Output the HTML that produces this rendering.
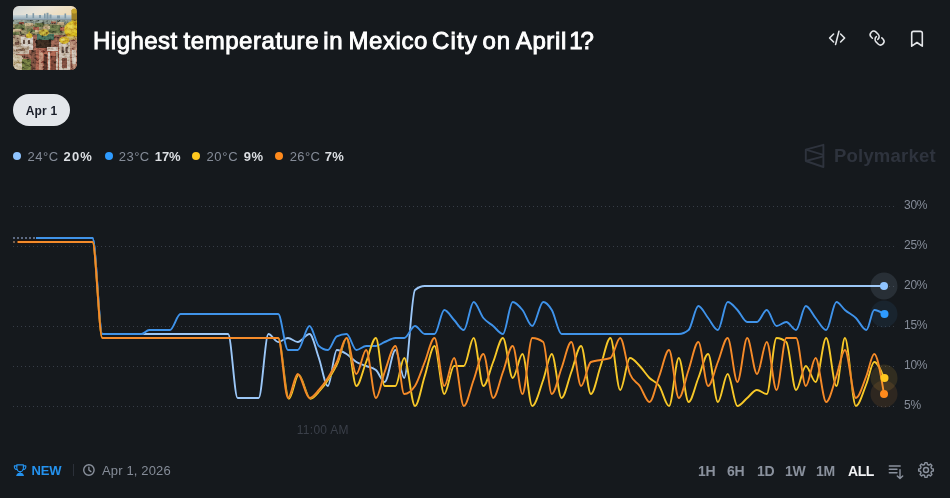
<!DOCTYPE html>
<html lang="en">
<head>
<meta charset="utf-8">
<title>Highest temperature in Mexico City on April 1?</title>
<style>
*{box-sizing:border-box;margin:0;padding:0}
html,body{width:950px;height:498px;overflow:hidden;background:#15191d;}
body{position:relative;font-family:"Liberation Sans",Arial,sans-serif;color:#fff}
.abs{position:absolute}
#thumb{left:13px;top:6px;width:64px;height:64px;border-radius:6px;overflow:hidden}
#title{left:93px;top:27px;font-size:24px;line-height:28px;font-weight:400;-webkit-text-stroke:0.9px #fff;letter-spacing:0.5px;color:#fff;white-space:nowrap}
.w{position:absolute;top:0}
#pill{left:13px;top:94px;width:57px;height:32px;border-radius:16px;background:#e3e6ea;color:#1a1e29;font-size:12px;font-weight:700;line-height:34px;text-align:center;letter-spacing:.2px}
.leg{top:149px;height:16px;line-height:16px;font-size:13px;color:#858c98;white-space:nowrap;letter-spacing:.15px}
.lb{color:#dcdfe3;font-weight:700}
.dot{position:absolute;width:8px;height:8px;border-radius:50%;top:152px}
#wm{left:834px;top:144px;font-size:18.5px;line-height:24px;font-weight:700;color:#2e333d;white-space:nowrap;letter-spacing:.2px}
.yl{left:904px;font-size:12px;letter-spacing:-.25px;line-height:12px;color:#858c98;white-space:nowrap}
#xl{left:296.7px;top:422.5px;font-size:12px;letter-spacing:.3px;line-height:14px;color:#3a3f49;white-space:nowrap}
.foot{top:463px;line-height:16px;font-size:13px;white-space:nowrap}
.rng{top:463px;line-height:16px;font-size:14px;font-weight:700;color:#8a919d;letter-spacing:-0.4px;white-space:nowrap}
svg{position:absolute;left:0;top:0;overflow:visible}
.g{stroke:#373d47;stroke-width:1;stroke-dasharray:1 3;fill:none;shape-rendering:crispEdges}
.ln{fill:none;stroke-width:1.9;stroke-linejoin:round;stroke-linecap:round}
.ic{fill:none;stroke:#e4e6e9;stroke-width:1.6;stroke-linecap:round;stroke-linejoin:round}
.ig{fill:none;stroke:#8a919d;stroke-width:1.4;stroke-linecap:round;stroke-linejoin:round}
</style>
</head>
<body>

<!-- thumbnail -->
<div id="thumb" class="abs">
<svg width="64" height="64" viewBox="0 0 64 64" style="position:static;display:block">
  <defs>
    <linearGradient id="sky" x1="0" y1="0" x2="1" y2="0.3">
      <stop offset="0" stop-color="#cdd6da"/><stop offset="0.55" stop-color="#ebe4d6"/><stop offset="1" stop-color="#f0dcb8"/>
    </linearGradient>
    <linearGradient id="haze" x1="0" y1="0" x2="0" y2="1">
      <stop offset="0" stop-color="#c9d3d6"/><stop offset="0.5" stop-color="#9db2be"/><stop offset="1" stop-color="#869ca6"/>
    </linearGradient>
    <radialGradient id="dome" cx="0.35" cy="0.38" r="0.8">
      <stop offset="0" stop-color="#f5dc50"/><stop offset="0.5" stop-color="#e0b51a"/><stop offset="1" stop-color="#9a700e"/>
    </radialGradient>
    <filter id="bl" x="-5%" y="-5%" width="110%" height="110%"><feGaussianBlur stdDeviation="0.6"/></filter>
    <filter id="nz" x="0" y="0" width="100%" height="100%">
      <feTurbulence type="fractalNoise" baseFrequency="0.28 0.36" numOctaves="3" seed="11"/>
      <feColorMatrix type="matrix" values="2.2 0 0 0 -0.62  2.2 0 0 0 -0.62  2.2 0 0 0 -0.62  0 0 0 0 1"/>
    </filter>
  </defs>
  <rect width="64" height="64" fill="#7d5a48"/>
  <g filter="url(#bl)">
    <rect x="-2" y="-2" width="68" height="13" fill="url(#sky)"/>
    <rect x="-2" y="9" width="68" height="7" fill="url(#haze)"/>
    <g fill="#7f98a6">
      <rect x="13" y="8" width="1.6" height="4"/><rect x="19.5" y="7.2" width="1.6" height="5"/>
      <rect x="26" y="9" width="2" height="3"/><rect x="31" y="7.5" width="1.6" height="5"/>
      <rect x="33.5" y="6.8" width="2" height="6"/><rect x="36.5" y="8.5" width="2" height="4"/>
      <rect x="51.5" y="7.5" width="1.6" height="5"/><rect x="44" y="9.5" width="3" height="3"/>
    </g>
    <rect x="-2" y="14" width="68" height="16" fill="#837f5c"/>
    <rect x="-2" y="14" width="68" height="4" fill="#7b8a80"/>
    <g fill="#5b6b42">
      <rect x="2" y="19" width="10" height="5"/><rect x="22" y="17" width="9" height="4"/>
      <rect x="36" y="19" width="12" height="8"/><rect x="14" y="23" width="8" height="3"/>
      <rect x="0" y="26" width="6" height="3"/>
    </g>
    <g fill="#bfa47c">
      <rect x="12" y="17" width="8" height="3"/><rect x="30" y="20" width="7" height="3"/>
      <rect x="0" y="23" width="9" height="2.5"/><rect x="44" y="16" width="7" height="3"/>
      <rect x="22" y="24" width="5" height="2"/>
    </g>
    <g fill="#9b5845">
      <rect x="20" y="21" width="6" height="3"/><rect x="47" y="21" width="5" height="4"/><rect x="6" y="16" width="5" height="2"/>
      <rect x="38" y="15.5" width="5" height="2"/>
    </g>
    <rect x="-2" y="29" width="68" height="37" fill="#86584a"/>
    <rect x="-2" y="29" width="14" height="18" fill="#a58c76"/>
    <rect x="8" y="31" width="12" height="13" fill="#dcd3c6"/>
    <rect x="10" y="34" width="2" height="4" fill="#5e4c40"/><rect x="15" y="34" width="2" height="4" fill="#5e4c40"/>
    <rect x="2" y="36" width="4" height="3" fill="#6b4d3f"/>
    <rect x="0" y="40" width="16" height="8" fill="#bda890"/>
    <rect x="3" y="43" width="9" height="2" fill="#7d6351"/>
    <path d="M-2,47 L9,50 L15,64 L-2,64 Z" fill="#cfbe98"/>
    <rect x="9" y="53" width="12" height="13" fill="#66703a"/>
    <rect x="24" y="28" width="17" height="6" fill="#3c6553"/>
    <rect x="23" y="34" width="15" height="9" fill="#33261f"/>
    <rect x="22" y="42" width="26" height="24" fill="#9a5846"/>
    <rect x="26" y="44" width="4" height="20" fill="#c08470"/>
    <rect x="34" y="41" width="11" height="4" fill="#dccdbf"/>
    <rect x="31" y="48" width="3" height="16" fill="#4f2e25"/>
    <rect x="38" y="50" width="5" height="14" fill="#6e3c30"/>
    <rect x="18" y="44" width="5" height="20" fill="#70493b"/>
    <rect x="35" y="46" width="2" height="18" fill="#d9c7b8"/>
    <rect x="43" y="46" width="2" height="18" fill="#d9c7b8"/>
    <rect x="46" y="36" width="11" height="30" fill="#d0c0ad"/>
    <rect x="48.5" y="41" width="2.2" height="6" fill="#52423a"/><rect x="52.5" y="41" width="2.2" height="6" fill="#52423a"/>
    <rect x="49" y="52" width="5" height="10" fill="#744a3b"/>
    <rect x="57" y="33" width="9" height="33" fill="#b07d6a"/>
    <rect x="59" y="44" width="4" height="14" fill="#d8c9b8"/>
    <rect x="58.5" y="4" width="5.5" height="12" fill="#a08227"/>
    <circle cx="61.2" cy="5" r="2.6" fill="#c8a52a"/>
    <circle cx="60.3" cy="24" r="9" fill="url(#dome)"/>
    <rect x="51" y="30.5" width="15" height="3.5" fill="#c09c58"/>
    <ellipse cx="51.3" cy="34.3" rx="5" ry="3.6" fill="#dcb228"/>
    <ellipse cx="50" cy="33.4" rx="2" ry="1.2" fill="#f3da62"/>
    <ellipse cx="31" cy="26.6" rx="5.2" ry="3.3" fill="#bfa636"/>
    <ellipse cx="16.3" cy="29.8" rx="3.2" ry="2.5" fill="#d6b52c"/>
    <rect x="15.6" y="25.5" width="1.4" height="3" fill="#b08f26"/>
  </g>
  <rect x="0" y="13" width="64" height="51" fill="#2a1e18" opacity="0.14"/>
  <rect x="0" y="14" width="64" height="50" filter="url(#nz)" opacity="0.42" style="mix-blend-mode:overlay"/>
</svg>

</div>

<div id="title" class="abs"><span class="w" style="left:0.1px;letter-spacing:0.44px">Highest</span> <span class="w" style="left:90.5px;letter-spacing:0.56px">temperature</span> <span class="w" style="left:230.2px;letter-spacing:0.79px">in</span> <span class="w" style="left:255.5px;letter-spacing:0.59px">Mexico</span> <span class="w" style="left:338.9px;letter-spacing:1.2px">City</span> <span class="w" style="left:389.6px;letter-spacing:0.7px">on</span> <span class="w" style="left:422.8px;letter-spacing:0.61px">April</span> <span class="w" style="left:476.3px;letter-spacing:-2.2px">1?</span></div>

<div id="pill" class="abs">Apr 1</div>

<!-- legend -->
<span class="dot" style="left:13px;background:#8fc4ff"></span>
<div class="abs leg" style="left:27.6px;letter-spacing:.5px">24°C</div><div class="abs leg lb" style="left:63.6px;letter-spacing:1.1px">20%</div>
<span class="dot" style="left:105px;background:#2e9bff"></span>
<div class="abs leg" style="left:118.7px;letter-spacing:.5px">23°C</div><div class="abs leg lb" style="left:154.8px;letter-spacing:-.1px">17%</div>
<span class="dot" style="left:192px;background:#ffc81f"></span>
<div class="abs leg" style="left:206.4px;letter-spacing:.75px">20°C</div><div class="abs leg lb" style="left:243.7px;letter-spacing:.5px">9%</div>
<span class="dot" style="left:275px;background:#ff8a1c"></span>
<div class="abs leg" style="left:289.7px;letter-spacing:.4px">26°C</div><div class="abs leg lb" style="left:324.8px;letter-spacing:.2px">7%</div>

<div id="wm" class="abs">Polymarket</div>

<!-- y labels -->
<div class="abs yl" style="top:199px">30%</div>
<div class="abs yl" style="top:239px">25%</div>
<div class="abs yl" style="top:279px">20%</div>
<div class="abs yl" style="top:319px">15%</div>
<div class="abs yl" style="top:359px">10%</div>
<div class="abs yl" style="top:399px">5%</div>
<div id="xl" class="abs">11:00 AM</div>

<!-- chart + icons -->
<svg width="950" height="498" viewBox="0 0 950 498">
  <!-- header icons -->
  <g class="ic">
    <path d="M833.6,34 L829.6,38 L833.6,42"/>
    <path d="M838.9,31.4 L835.6,44.4"/>
    <path d="M840.6,34 L844.6,38 L840.6,42"/>
    <g transform="translate(877.1,38.05) rotate(90) scale(0.69) translate(-12,-12)" stroke-width="2.2">
      <path d="M10 13a5 5 0 0 0 7.54.54l3-3a5 5 0 0 0-7.07-7.07l-1.72 1.71"/>
      <path d="M14 11a5 5 0 0 0-7.54-.54l-3 3a5 5 0 0 0 7.07 7.07l1.71-1.71"/>
    </g>
    <path d="M911.7,46.2 V33.2 a1.8,1.8 0 0 1 1.8,-1.8 h7 a1.8,1.8 0 0 1 1.8,1.8 V46.2 L917,42.5 Z"/>
  </g>
  <!-- watermark logo -->
  <g fill="none" stroke="#2e333d" stroke-width="1.9" stroke-linejoin="round">
    <path d="M805.8,149.7 L823.4,144.8 V167 L805.8,161 Z"/>
    <path d="M805.8,149.7 L823.4,154.9 M805.8,161 L823.4,156.3"/>
  </g>
  <!-- grid -->
  <g>
    <line class="g" x1="13" x2="896" y1="206.5" y2="206.5"/>
    <line class="g" x1="13" x2="896" y1="246.5" y2="246.5"/>
    <line class="g" x1="13" x2="896" y1="286.5" y2="286.5"/>
    <line class="g" x1="13" x2="896" y1="326.5" y2="326.5"/>
    <line class="g" x1="13" x2="896" y1="366.5" y2="366.5"/>
    <line class="g" x1="13" x2="896" y1="406.5" y2="406.5"/>
  </g>
  <g class="ln" stroke-width="4" stroke-opacity="0.65">
    <path stroke="#04142e" d="M14.38,238.00C17.64,238.00 20.89,238.00 24.15,238.00C27.41,238.00 30.67,238.00 33.92,238.00C37.18,238.00 40.44,238.00 43.69,238.00C46.95,238.00 50.21,238.00 53.46,238.00C56.72,238.00 59.98,238.00 63.24,238.00C66.49,238.00 69.75,238.00 73.01,238.00C76.26,238.00 79.52,238.00 82.78,238.00C86.03,238.00 89.29,238.00 92.55,238.00C95.81,238.00 99.06,334.00 102.32,334.00C105.58,334.00 108.83,334.00 112.09,334.00C115.35,334.00 118.60,334.00 121.86,334.00C125.12,334.00 128.38,334.00 131.63,334.00C134.89,334.00 138.15,334.00 141.40,334.00C143.99,334.00 146.58,334.00 149.17,334.00C153.10,334.00 157.02,334.00 160.95,334.00C163.94,334.00 166.93,334.00 169.92,334.00C173.44,334.00 176.96,334.00 180.49,334.00C183.74,334.00 187.00,334.00 190.26,334.00C193.52,334.00 196.77,334.00 200.03,334.00C203.29,334.00 206.54,334.00 209.80,334.00C213.06,334.00 216.31,334.00 219.57,334.00C222.43,334.00 225.29,334.00 228.14,334.00C231.30,334.00 234.46,398.00 237.61,398.00C241.37,398.00 245.13,398.00 248.88,398.00C252.14,398.00 255.40,398.00 258.66,398.00C261.91,398.00 265.17,334.00 268.43,334.00C271.68,334.00 274.94,342.00 278.20,342.00C281.45,342.00 284.71,338.00 287.97,338.00C291.23,338.00 294.48,342.00 297.74,342.00C301.66,342.00 305.59,334.00 309.51,334.00C312.63,334.00 315.76,349.11 318.88,358.00C321.87,366.51 324.86,386.00 327.85,386.00C330.84,386.00 333.83,350.00 336.82,350.00C340.08,350.00 343.34,352.00 346.59,354.00C349.85,356.00 353.11,360.00 356.37,362.00C359.62,364.00 362.88,364.67 366.14,366.00C369.39,367.33 372.65,367.33 375.91,370.00C378.83,372.39 381.76,382.00 384.68,382.00C388.27,382.00 391.86,350.00 395.45,350.00C398.37,350.00 401.30,378.00 404.22,378.00C407.81,378.00 411.40,292.94 414.99,290.00C418.25,287.33 421.51,286.00 424.76,286.00C428.02,286.00 431.28,286.00 434.53,286.00C437.79,286.00 441.05,286.00 444.30,286.00C447.56,286.00 450.82,286.00 454.08,286.00C457.33,286.00 460.59,286.00 463.85,286.00C467.10,286.00 470.36,286.00 473.62,286.00C476.87,286.00 480.13,286.00 483.39,286.00C486.65,286.00 489.90,286.00 493.16,286.00C496.42,286.00 499.67,286.00 502.93,286.00C506.19,286.00 509.44,286.00 512.70,286.00C515.96,286.00 519.22,286.00 522.47,286.00C525.73,286.00 528.99,286.00 532.24,286.00C535.90,286.00 539.56,286.00 543.22,286.00C546.07,286.00 548.93,286.00 551.79,286.00C555.04,286.00 558.30,286.00 561.56,286.00C564.81,286.00 568.07,286.00 571.33,286.00C574.58,286.00 577.84,286.00 581.10,286.00C584.36,286.00 587.61,286.00 590.87,286.00C594.13,286.00 597.38,286.00 600.64,286.00C603.90,286.00 607.15,286.00 610.41,286.00C613.67,286.00 616.93,286.00 620.18,286.00C623.44,286.00 626.70,286.00 629.95,286.00C633.21,286.00 636.47,286.00 639.72,286.00C642.98,286.00 646.24,286.00 649.50,286.00C652.75,286.00 656.01,286.00 659.27,286.00C662.52,286.00 665.78,286.00 669.04,286.00C672.29,286.00 675.55,286.00 678.81,286.00C682.07,286.00 685.32,286.00 688.58,286.00C691.84,286.00 695.09,286.00 698.35,286.00C701.61,286.00 704.87,286.00 708.12,286.00C711.38,286.00 714.64,286.00 717.89,286.00C721.15,286.00 724.41,286.00 727.66,286.00C730.92,286.00 734.18,286.00 737.43,286.00C740.69,286.00 743.95,286.00 747.21,286.00C750.46,286.00 753.72,286.00 756.98,286.00C760.23,286.00 763.49,286.00 766.75,286.00C770.00,286.00 773.26,286.00 776.52,286.00C779.78,286.00 783.03,286.00 786.29,286.00C789.55,286.00 792.80,286.00 796.06,286.00C799.32,286.00 802.58,286.00 805.83,286.00C809.09,286.00 812.35,286.00 815.60,286.00C819.13,286.00 822.65,286.00 826.17,286.00C829.60,286.00 833.02,286.00 836.44,286.00C839.27,286.00 842.09,286.00 844.92,286.00C848.57,286.00 852.23,286.00 855.89,286.00C859.38,286.00 862.87,286.00 866.36,286.00C868.98,286.00 871.61,286.00 874.23,286.00C877.49,286.00 880.74,286.00 884.00,286.00"/>
  </g>
  <path class="ln" stroke="#9cc7f6" d="M14.38,238.00C17.64,238.00 20.89,238.00 24.15,238.00C27.41,238.00 30.67,238.00 33.92,238.00C37.18,238.00 40.44,238.00 43.69,238.00C46.95,238.00 50.21,238.00 53.46,238.00C56.72,238.00 59.98,238.00 63.24,238.00C66.49,238.00 69.75,238.00 73.01,238.00C76.26,238.00 79.52,238.00 82.78,238.00C86.03,238.00 89.29,238.00 92.55,238.00C95.81,238.00 99.06,334.00 102.32,334.00C105.58,334.00 108.83,334.00 112.09,334.00C115.35,334.00 118.60,334.00 121.86,334.00C125.12,334.00 128.38,334.00 131.63,334.00C134.89,334.00 138.15,334.00 141.40,334.00C143.99,334.00 146.58,334.00 149.17,334.00C153.10,334.00 157.02,334.00 160.95,334.00C163.94,334.00 166.93,334.00 169.92,334.00C173.44,334.00 176.96,334.00 180.49,334.00C183.74,334.00 187.00,334.00 190.26,334.00C193.52,334.00 196.77,334.00 200.03,334.00C203.29,334.00 206.54,334.00 209.80,334.00C213.06,334.00 216.31,334.00 219.57,334.00C222.43,334.00 225.29,334.00 228.14,334.00C231.30,334.00 234.46,398.00 237.61,398.00C241.37,398.00 245.13,398.00 248.88,398.00C252.14,398.00 255.40,398.00 258.66,398.00C261.91,398.00 265.17,334.00 268.43,334.00C271.68,334.00 274.94,342.00 278.20,342.00C281.45,342.00 284.71,338.00 287.97,338.00C291.23,338.00 294.48,342.00 297.74,342.00C301.66,342.00 305.59,334.00 309.51,334.00C312.63,334.00 315.76,349.11 318.88,358.00C321.87,366.51 324.86,386.00 327.85,386.00C330.84,386.00 333.83,350.00 336.82,350.00C340.08,350.00 343.34,352.00 346.59,354.00C349.85,356.00 353.11,360.00 356.37,362.00C359.62,364.00 362.88,364.67 366.14,366.00C369.39,367.33 372.65,367.33 375.91,370.00C378.83,372.39 381.76,382.00 384.68,382.00C388.27,382.00 391.86,350.00 395.45,350.00C398.37,350.00 401.30,378.00 404.22,378.00C407.81,378.00 411.40,292.94 414.99,290.00C418.25,287.33 421.51,286.00 424.76,286.00C428.02,286.00 431.28,286.00 434.53,286.00C437.79,286.00 441.05,286.00 444.30,286.00C447.56,286.00 450.82,286.00 454.08,286.00C457.33,286.00 460.59,286.00 463.85,286.00C467.10,286.00 470.36,286.00 473.62,286.00C476.87,286.00 480.13,286.00 483.39,286.00C486.65,286.00 489.90,286.00 493.16,286.00C496.42,286.00 499.67,286.00 502.93,286.00C506.19,286.00 509.44,286.00 512.70,286.00C515.96,286.00 519.22,286.00 522.47,286.00C525.73,286.00 528.99,286.00 532.24,286.00C535.90,286.00 539.56,286.00 543.22,286.00C546.07,286.00 548.93,286.00 551.79,286.00C555.04,286.00 558.30,286.00 561.56,286.00C564.81,286.00 568.07,286.00 571.33,286.00C574.58,286.00 577.84,286.00 581.10,286.00C584.36,286.00 587.61,286.00 590.87,286.00C594.13,286.00 597.38,286.00 600.64,286.00C603.90,286.00 607.15,286.00 610.41,286.00C613.67,286.00 616.93,286.00 620.18,286.00C623.44,286.00 626.70,286.00 629.95,286.00C633.21,286.00 636.47,286.00 639.72,286.00C642.98,286.00 646.24,286.00 649.50,286.00C652.75,286.00 656.01,286.00 659.27,286.00C662.52,286.00 665.78,286.00 669.04,286.00C672.29,286.00 675.55,286.00 678.81,286.00C682.07,286.00 685.32,286.00 688.58,286.00C691.84,286.00 695.09,286.00 698.35,286.00C701.61,286.00 704.87,286.00 708.12,286.00C711.38,286.00 714.64,286.00 717.89,286.00C721.15,286.00 724.41,286.00 727.66,286.00C730.92,286.00 734.18,286.00 737.43,286.00C740.69,286.00 743.95,286.00 747.21,286.00C750.46,286.00 753.72,286.00 756.98,286.00C760.23,286.00 763.49,286.00 766.75,286.00C770.00,286.00 773.26,286.00 776.52,286.00C779.78,286.00 783.03,286.00 786.29,286.00C789.55,286.00 792.80,286.00 796.06,286.00C799.32,286.00 802.58,286.00 805.83,286.00C809.09,286.00 812.35,286.00 815.60,286.00C819.13,286.00 822.65,286.00 826.17,286.00C829.60,286.00 833.02,286.00 836.44,286.00C839.27,286.00 842.09,286.00 844.92,286.00C848.57,286.00 852.23,286.00 855.89,286.00C859.38,286.00 862.87,286.00 866.36,286.00C868.98,286.00 871.61,286.00 874.23,286.00C877.49,286.00 880.74,286.00 884.00,286.00"/>
  <path class="ln" stroke="#021a42" stroke-width="4" stroke-opacity="0.65" d="M14.38,238.00C17.64,238.00 20.89,238.00 24.15,238.00C27.41,238.00 30.67,238.00 33.92,238.00C37.18,238.00 40.44,238.00 43.69,238.00C46.95,238.00 50.21,238.00 53.46,238.00C56.72,238.00 59.98,238.00 63.24,238.00C66.49,238.00 69.75,238.00 73.01,238.00C76.26,238.00 79.52,238.00 82.78,238.00C86.03,238.00 89.29,238.00 92.55,238.00C95.81,238.00 99.06,334.00 102.32,334.00C105.58,334.00 108.83,334.00 112.09,334.00C115.35,334.00 118.60,334.00 121.86,334.00C125.12,334.00 128.38,334.00 131.63,334.00C134.89,334.00 138.15,334.00 141.40,334.00C143.99,334.00 146.58,330.00 149.17,330.00C153.10,330.00 157.02,330.00 160.95,330.00C163.94,330.00 166.93,330.00 169.92,330.00C173.44,330.00 176.96,314.00 180.49,314.00C183.74,314.00 187.00,314.00 190.26,314.00C193.52,314.00 196.77,314.00 200.03,314.00C203.29,314.00 206.54,314.00 209.80,314.00C213.06,314.00 216.31,314.00 219.57,314.00C222.43,314.00 225.29,314.00 228.14,314.00C231.30,314.00 234.46,314.00 237.61,314.00C241.37,314.00 245.13,314.00 248.88,314.00C252.14,314.00 255.40,314.00 258.66,314.00C261.91,314.00 265.17,314.00 268.43,314.00C271.68,314.00 274.94,314.00 278.20,314.00C281.45,314.00 284.71,350.00 287.97,350.00C291.23,350.00 294.48,350.00 297.74,350.00C301.66,350.00 305.59,326.00 309.51,326.00C312.63,326.00 315.76,343.21 318.88,346.00C321.87,348.67 324.86,350.00 327.85,350.00C330.84,350.00 333.83,337.87 336.82,336.40C340.08,334.80 343.34,334.00 346.59,334.00C349.85,334.00 353.11,350.00 356.37,350.00C359.62,350.00 362.88,346.00 366.14,346.00C369.39,346.00 372.65,346.00 375.91,346.00C378.83,346.00 381.76,343.22 384.68,342.00C388.27,340.50 391.86,338.00 395.45,338.00C398.37,338.00 401.30,338.00 404.22,338.00C407.81,338.00 411.40,326.00 414.99,326.00C418.25,326.00 421.51,334.00 424.76,334.00C428.02,334.00 431.28,334.00 434.53,334.00C437.79,334.00 441.05,310.00 444.30,310.00C447.56,310.00 450.82,316.67 454.08,320.00C457.33,323.33 460.59,330.00 463.85,330.00C467.10,330.00 470.36,302.00 473.62,302.00C476.87,302.00 480.13,314.00 483.39,318.00C486.65,322.00 489.90,323.33 493.16,326.00C496.42,328.67 499.67,334.00 502.93,334.00C506.19,334.00 509.44,302.00 512.70,302.00C515.96,302.00 519.22,306.00 522.47,310.00C525.73,314.00 528.99,326.00 532.24,326.00C535.90,326.00 539.56,302.00 543.22,302.00C546.07,302.00 548.93,305.30 551.79,310.00C555.04,315.36 558.30,334.00 561.56,334.00C564.81,334.00 568.07,334.00 571.33,334.00C574.58,334.00 577.84,334.00 581.10,334.00C584.36,334.00 587.61,334.00 590.87,334.00C594.13,334.00 597.38,334.00 600.64,334.00C603.90,334.00 607.15,334.00 610.41,334.00C613.67,334.00 616.93,334.00 620.18,334.00C623.44,334.00 626.70,334.00 629.95,334.00C633.21,334.00 636.47,334.00 639.72,334.00C642.98,334.00 646.24,334.00 649.50,334.00C652.75,334.00 656.01,334.00 659.27,334.00C662.52,334.00 665.78,334.00 669.04,334.00C672.29,334.00 675.55,334.00 678.81,334.00C682.07,334.00 685.32,332.67 688.58,330.00C691.84,327.33 695.09,306.00 698.35,306.00C701.61,306.00 704.87,314.00 708.12,318.00C711.38,322.00 714.64,330.00 717.89,330.00C721.15,330.00 724.41,302.00 727.66,302.00C730.92,302.00 734.18,306.67 737.43,310.00C740.69,313.33 743.95,322.00 747.21,322.00C750.46,322.00 753.72,322.00 756.98,322.00C760.23,322.00 763.49,310.00 766.75,310.00C770.00,310.00 773.26,326.00 776.52,326.00C779.78,326.00 783.03,322.00 786.29,322.00C789.55,322.00 792.80,330.00 796.06,330.00C799.32,330.00 802.58,306.00 805.83,306.00C809.09,306.00 812.35,314.15 815.60,318.00C819.13,322.17 822.65,330.00 826.17,330.00C829.60,330.00 833.02,302.00 836.44,302.00C839.27,302.00 842.09,307.60 844.92,310.00C848.57,313.11 852.23,314.55 855.89,318.00C859.38,321.29 862.87,330.00 866.36,330.00C868.98,330.00 871.61,310.00 874.23,310.00C877.49,310.00 880.74,312.00 884.00,314.00"/>
  <path class="ln" stroke="#4093e8" d="M14.38,238.00C17.64,238.00 20.89,238.00 24.15,238.00C27.41,238.00 30.67,238.00 33.92,238.00C37.18,238.00 40.44,238.00 43.69,238.00C46.95,238.00 50.21,238.00 53.46,238.00C56.72,238.00 59.98,238.00 63.24,238.00C66.49,238.00 69.75,238.00 73.01,238.00C76.26,238.00 79.52,238.00 82.78,238.00C86.03,238.00 89.29,238.00 92.55,238.00C95.81,238.00 99.06,334.00 102.32,334.00C105.58,334.00 108.83,334.00 112.09,334.00C115.35,334.00 118.60,334.00 121.86,334.00C125.12,334.00 128.38,334.00 131.63,334.00C134.89,334.00 138.15,334.00 141.40,334.00C143.99,334.00 146.58,330.00 149.17,330.00C153.10,330.00 157.02,330.00 160.95,330.00C163.94,330.00 166.93,330.00 169.92,330.00C173.44,330.00 176.96,314.00 180.49,314.00C183.74,314.00 187.00,314.00 190.26,314.00C193.52,314.00 196.77,314.00 200.03,314.00C203.29,314.00 206.54,314.00 209.80,314.00C213.06,314.00 216.31,314.00 219.57,314.00C222.43,314.00 225.29,314.00 228.14,314.00C231.30,314.00 234.46,314.00 237.61,314.00C241.37,314.00 245.13,314.00 248.88,314.00C252.14,314.00 255.40,314.00 258.66,314.00C261.91,314.00 265.17,314.00 268.43,314.00C271.68,314.00 274.94,314.00 278.20,314.00C281.45,314.00 284.71,350.00 287.97,350.00C291.23,350.00 294.48,350.00 297.74,350.00C301.66,350.00 305.59,326.00 309.51,326.00C312.63,326.00 315.76,343.21 318.88,346.00C321.87,348.67 324.86,350.00 327.85,350.00C330.84,350.00 333.83,337.87 336.82,336.40C340.08,334.80 343.34,334.00 346.59,334.00C349.85,334.00 353.11,350.00 356.37,350.00C359.62,350.00 362.88,346.00 366.14,346.00C369.39,346.00 372.65,346.00 375.91,346.00C378.83,346.00 381.76,343.22 384.68,342.00C388.27,340.50 391.86,338.00 395.45,338.00C398.37,338.00 401.30,338.00 404.22,338.00C407.81,338.00 411.40,326.00 414.99,326.00C418.25,326.00 421.51,334.00 424.76,334.00C428.02,334.00 431.28,334.00 434.53,334.00C437.79,334.00 441.05,310.00 444.30,310.00C447.56,310.00 450.82,316.67 454.08,320.00C457.33,323.33 460.59,330.00 463.85,330.00C467.10,330.00 470.36,302.00 473.62,302.00C476.87,302.00 480.13,314.00 483.39,318.00C486.65,322.00 489.90,323.33 493.16,326.00C496.42,328.67 499.67,334.00 502.93,334.00C506.19,334.00 509.44,302.00 512.70,302.00C515.96,302.00 519.22,306.00 522.47,310.00C525.73,314.00 528.99,326.00 532.24,326.00C535.90,326.00 539.56,302.00 543.22,302.00C546.07,302.00 548.93,305.30 551.79,310.00C555.04,315.36 558.30,334.00 561.56,334.00C564.81,334.00 568.07,334.00 571.33,334.00C574.58,334.00 577.84,334.00 581.10,334.00C584.36,334.00 587.61,334.00 590.87,334.00C594.13,334.00 597.38,334.00 600.64,334.00C603.90,334.00 607.15,334.00 610.41,334.00C613.67,334.00 616.93,334.00 620.18,334.00C623.44,334.00 626.70,334.00 629.95,334.00C633.21,334.00 636.47,334.00 639.72,334.00C642.98,334.00 646.24,334.00 649.50,334.00C652.75,334.00 656.01,334.00 659.27,334.00C662.52,334.00 665.78,334.00 669.04,334.00C672.29,334.00 675.55,334.00 678.81,334.00C682.07,334.00 685.32,332.67 688.58,330.00C691.84,327.33 695.09,306.00 698.35,306.00C701.61,306.00 704.87,314.00 708.12,318.00C711.38,322.00 714.64,330.00 717.89,330.00C721.15,330.00 724.41,302.00 727.66,302.00C730.92,302.00 734.18,306.67 737.43,310.00C740.69,313.33 743.95,322.00 747.21,322.00C750.46,322.00 753.72,322.00 756.98,322.00C760.23,322.00 763.49,310.00 766.75,310.00C770.00,310.00 773.26,326.00 776.52,326.00C779.78,326.00 783.03,322.00 786.29,322.00C789.55,322.00 792.80,330.00 796.06,330.00C799.32,330.00 802.58,306.00 805.83,306.00C809.09,306.00 812.35,314.15 815.60,318.00C819.13,322.17 822.65,330.00 826.17,330.00C829.60,330.00 833.02,302.00 836.44,302.00C839.27,302.00 842.09,307.60 844.92,310.00C848.57,313.11 852.23,314.55 855.89,318.00C859.38,321.29 862.87,330.00 866.36,330.00C868.98,330.00 871.61,310.00 874.23,310.00C877.49,310.00 880.74,312.00 884.00,314.00"/>
  <path class="ln" stroke="#2a1c00" stroke-width="4" stroke-opacity="0.6" d="M14.38,242.00C17.64,242.00 20.89,242.00 24.15,242.00C27.41,242.00 30.67,242.00 33.92,242.00C37.18,242.00 40.44,242.00 43.69,242.00C46.95,242.00 50.21,242.00 53.46,242.00C56.72,242.00 59.98,242.00 63.24,242.00C66.49,242.00 69.75,242.00 73.01,242.00C76.26,242.00 79.52,242.00 82.78,242.00C86.03,242.00 89.29,242.00 92.55,242.00C95.81,242.00 99.06,338.00 102.32,338.00C105.58,338.00 108.83,338.00 112.09,338.00C115.35,338.00 118.60,338.00 121.86,338.00C125.12,338.00 128.38,338.00 131.63,338.00C134.89,338.00 138.15,338.00 141.40,338.00C143.99,338.00 146.58,338.00 149.17,338.00C153.10,338.00 157.02,338.00 160.95,338.00C163.94,338.00 166.93,338.00 169.92,338.00C173.44,338.00 176.96,338.00 180.49,338.00C183.74,338.00 187.00,338.00 190.26,338.00C193.52,338.00 196.77,338.00 200.03,338.00C203.29,338.00 206.54,338.00 209.80,338.00C213.06,338.00 216.31,338.00 219.57,338.00C222.43,338.00 225.29,338.00 228.14,338.00C231.30,338.00 234.46,338.00 237.61,338.00C241.37,338.00 245.13,338.00 248.88,338.00C252.14,338.00 255.40,338.00 258.66,338.00C261.91,338.00 265.17,338.00 268.43,338.00C271.68,338.00 274.94,338.00 278.20,338.00C281.75,338.00 285.31,398.70 288.87,398.70C292.13,398.70 295.38,374.70 298.64,374.70C302.56,374.70 306.49,398.70 310.41,398.70C313.53,398.70 316.66,394.14 319.78,390.70C322.77,387.41 325.76,383.37 328.75,378.70C331.74,374.03 334.73,369.54 337.72,362.70C340.68,355.94 343.64,338.00 346.59,338.00C349.85,338.00 353.11,386.00 356.37,386.00C359.62,386.00 362.88,370.00 366.14,362.00C369.39,354.00 372.65,338.00 375.91,338.00C378.83,338.00 381.76,386.00 384.68,386.00C388.27,386.00 391.86,386.00 395.45,386.00C398.37,386.00 401.30,358.00 404.22,358.00C407.81,358.00 411.40,406.00 414.99,406.00C418.25,406.00 421.51,386.00 424.76,376.00C428.02,366.00 431.28,346.00 434.53,346.00C437.79,346.00 441.05,394.00 444.30,394.00C447.56,394.00 450.82,366.00 454.08,366.00C457.33,366.00 460.59,366.00 463.85,366.00C467.10,366.00 470.36,338.00 473.62,338.00C476.87,338.00 480.13,386.00 483.39,386.00C486.65,386.00 489.90,370.00 493.16,362.00C496.42,354.00 499.67,338.00 502.93,338.00C506.19,338.00 509.44,378.00 512.70,378.00C515.96,378.00 519.22,354.00 522.47,354.00C525.73,354.00 528.99,406.00 532.24,406.00C535.90,406.00 539.56,390.03 543.22,380.00C546.07,372.16 548.93,354.00 551.79,354.00C555.04,354.00 558.30,398.00 561.56,398.00C564.81,398.00 568.07,380.67 571.33,372.00C574.58,363.33 577.84,346.00 581.10,346.00C584.36,346.00 587.61,394.00 590.87,394.00C594.13,394.00 597.38,375.33 600.64,366.00C603.90,356.67 607.15,338.00 610.41,338.00C613.67,338.00 616.93,390.00 620.18,390.00C623.44,390.00 626.70,358.00 629.95,358.00C633.21,358.00 636.47,362.67 639.72,366.00C642.98,369.33 646.24,374.67 649.50,378.00C652.75,381.33 656.01,381.33 659.27,386.00C662.52,390.67 665.78,406.00 669.04,406.00C672.29,406.00 675.55,358.00 678.81,358.00C682.07,358.00 685.32,402.00 688.58,402.00C691.84,402.00 695.09,386.00 698.35,378.00C701.61,370.00 704.87,354.00 708.12,354.00C711.38,354.00 714.64,402.00 717.89,402.00C721.15,402.00 724.41,374.00 727.66,374.00C730.92,374.00 734.18,406.00 737.43,406.00C740.69,406.00 743.95,400.67 747.21,398.00C750.46,395.33 753.72,390.00 756.98,390.00C760.23,390.00 763.49,394.00 766.75,394.00C770.00,394.00 773.26,338.00 776.52,338.00C779.78,338.00 783.03,339.33 786.29,342.00C789.55,344.67 792.80,390.00 796.06,390.00C799.32,390.00 802.58,366.00 805.83,366.00C809.09,366.00 812.35,382.00 815.60,382.00C819.13,382.00 822.65,338.00 826.17,338.00C829.60,338.00 833.02,386.00 836.44,386.00C839.27,386.00 842.09,338.00 844.92,338.00C848.57,338.00 852.23,406.00 855.89,406.00C859.38,406.00 862.87,392.72 866.36,384.00C868.98,377.45 871.61,362.00 874.23,362.00C877.49,362.00 880.74,370.00 884.00,378.00"/>
  <path class="ln" stroke="#f6c82a" d="M14.38,242.00C17.64,242.00 20.89,242.00 24.15,242.00C27.41,242.00 30.67,242.00 33.92,242.00C37.18,242.00 40.44,242.00 43.69,242.00C46.95,242.00 50.21,242.00 53.46,242.00C56.72,242.00 59.98,242.00 63.24,242.00C66.49,242.00 69.75,242.00 73.01,242.00C76.26,242.00 79.52,242.00 82.78,242.00C86.03,242.00 89.29,242.00 92.55,242.00C95.81,242.00 99.06,338.00 102.32,338.00C105.58,338.00 108.83,338.00 112.09,338.00C115.35,338.00 118.60,338.00 121.86,338.00C125.12,338.00 128.38,338.00 131.63,338.00C134.89,338.00 138.15,338.00 141.40,338.00C143.99,338.00 146.58,338.00 149.17,338.00C153.10,338.00 157.02,338.00 160.95,338.00C163.94,338.00 166.93,338.00 169.92,338.00C173.44,338.00 176.96,338.00 180.49,338.00C183.74,338.00 187.00,338.00 190.26,338.00C193.52,338.00 196.77,338.00 200.03,338.00C203.29,338.00 206.54,338.00 209.80,338.00C213.06,338.00 216.31,338.00 219.57,338.00C222.43,338.00 225.29,338.00 228.14,338.00C231.30,338.00 234.46,338.00 237.61,338.00C241.37,338.00 245.13,338.00 248.88,338.00C252.14,338.00 255.40,338.00 258.66,338.00C261.91,338.00 265.17,338.00 268.43,338.00C271.68,338.00 274.94,338.00 278.20,338.00C281.75,338.00 285.31,398.70 288.87,398.70C292.13,398.70 295.38,374.70 298.64,374.70C302.56,374.70 306.49,398.70 310.41,398.70C313.53,398.70 316.66,394.14 319.78,390.70C322.77,387.41 325.76,383.37 328.75,378.70C331.74,374.03 334.73,369.54 337.72,362.70C340.68,355.94 343.64,338.00 346.59,338.00C349.85,338.00 353.11,386.00 356.37,386.00C359.62,386.00 362.88,370.00 366.14,362.00C369.39,354.00 372.65,338.00 375.91,338.00C378.83,338.00 381.76,386.00 384.68,386.00C388.27,386.00 391.86,386.00 395.45,386.00C398.37,386.00 401.30,358.00 404.22,358.00C407.81,358.00 411.40,406.00 414.99,406.00C418.25,406.00 421.51,386.00 424.76,376.00C428.02,366.00 431.28,346.00 434.53,346.00C437.79,346.00 441.05,394.00 444.30,394.00C447.56,394.00 450.82,366.00 454.08,366.00C457.33,366.00 460.59,366.00 463.85,366.00C467.10,366.00 470.36,338.00 473.62,338.00C476.87,338.00 480.13,386.00 483.39,386.00C486.65,386.00 489.90,370.00 493.16,362.00C496.42,354.00 499.67,338.00 502.93,338.00C506.19,338.00 509.44,378.00 512.70,378.00C515.96,378.00 519.22,354.00 522.47,354.00C525.73,354.00 528.99,406.00 532.24,406.00C535.90,406.00 539.56,390.03 543.22,380.00C546.07,372.16 548.93,354.00 551.79,354.00C555.04,354.00 558.30,398.00 561.56,398.00C564.81,398.00 568.07,380.67 571.33,372.00C574.58,363.33 577.84,346.00 581.10,346.00C584.36,346.00 587.61,394.00 590.87,394.00C594.13,394.00 597.38,375.33 600.64,366.00C603.90,356.67 607.15,338.00 610.41,338.00C613.67,338.00 616.93,390.00 620.18,390.00C623.44,390.00 626.70,358.00 629.95,358.00C633.21,358.00 636.47,362.67 639.72,366.00C642.98,369.33 646.24,374.67 649.50,378.00C652.75,381.33 656.01,381.33 659.27,386.00C662.52,390.67 665.78,406.00 669.04,406.00C672.29,406.00 675.55,358.00 678.81,358.00C682.07,358.00 685.32,402.00 688.58,402.00C691.84,402.00 695.09,386.00 698.35,378.00C701.61,370.00 704.87,354.00 708.12,354.00C711.38,354.00 714.64,402.00 717.89,402.00C721.15,402.00 724.41,374.00 727.66,374.00C730.92,374.00 734.18,406.00 737.43,406.00C740.69,406.00 743.95,400.67 747.21,398.00C750.46,395.33 753.72,390.00 756.98,390.00C760.23,390.00 763.49,394.00 766.75,394.00C770.00,394.00 773.26,338.00 776.52,338.00C779.78,338.00 783.03,339.33 786.29,342.00C789.55,344.67 792.80,390.00 796.06,390.00C799.32,390.00 802.58,366.00 805.83,366.00C809.09,366.00 812.35,382.00 815.60,382.00C819.13,382.00 822.65,338.00 826.17,338.00C829.60,338.00 833.02,386.00 836.44,386.00C839.27,386.00 842.09,338.00 844.92,338.00C848.57,338.00 852.23,406.00 855.89,406.00C859.38,406.00 862.87,392.72 866.36,384.00C868.98,377.45 871.61,362.00 874.23,362.00C877.49,362.00 880.74,370.00 884.00,378.00"/>
  <path class="ln" stroke="#341200" stroke-width="4" stroke-opacity="0.6" d="M14.38,242.00C17.64,242.00 20.89,242.00 24.15,242.00C27.41,242.00 30.67,242.00 33.92,242.00C37.18,242.00 40.44,242.00 43.69,242.00C46.95,242.00 50.21,242.00 53.46,242.00C56.72,242.00 59.98,242.00 63.24,242.00C66.49,242.00 69.75,242.00 73.01,242.00C76.26,242.00 79.52,242.00 82.78,242.00C86.03,242.00 89.29,242.00 92.55,242.00C95.81,242.00 99.06,338.00 102.32,338.00C105.58,338.00 108.83,338.00 112.09,338.00C115.35,338.00 118.60,338.00 121.86,338.00C125.12,338.00 128.38,338.00 131.63,338.00C134.89,338.00 138.15,338.00 141.40,338.00C143.99,338.00 146.58,338.00 149.17,338.00C153.10,338.00 157.02,338.00 160.95,338.00C163.94,338.00 166.93,338.00 169.92,338.00C173.44,338.00 176.96,338.00 180.49,338.00C183.74,338.00 187.00,338.00 190.26,338.00C193.52,338.00 196.77,338.00 200.03,338.00C203.29,338.00 206.54,338.00 209.80,338.00C213.06,338.00 216.31,338.00 219.57,338.00C222.43,338.00 225.29,338.00 228.14,338.00C231.30,338.00 234.46,338.00 237.61,338.00C241.37,338.00 245.13,338.00 248.88,338.00C252.14,338.00 255.40,338.00 258.66,338.00C261.91,338.00 265.17,338.00 268.43,338.00C271.68,338.00 274.94,338.00 278.20,338.00C281.45,338.00 284.71,398.00 287.97,398.00C291.23,398.00 294.48,374.00 297.74,374.00C301.66,374.00 305.59,398.00 309.51,398.00C312.63,398.00 315.76,393.44 318.88,390.00C321.87,386.71 324.86,382.67 327.85,378.00C330.84,373.33 333.83,368.30 336.82,362.00C340.08,355.14 343.34,338.00 346.59,338.00C349.85,338.00 353.11,374.00 356.37,374.00C359.62,374.00 362.88,350.00 366.14,350.00C369.39,350.00 372.65,398.00 375.91,398.00C378.83,398.00 381.76,379.94 384.68,372.00C388.27,362.24 391.86,346.00 395.45,346.00C398.37,346.00 401.30,394.00 404.22,394.00C407.81,394.00 411.40,391.33 414.99,386.00C418.25,381.16 421.51,370.00 424.76,362.00C428.02,354.00 431.28,338.00 434.53,338.00C437.79,338.00 441.05,386.00 444.30,386.00C447.56,386.00 450.82,358.00 454.08,358.00C457.33,358.00 460.59,406.00 463.85,406.00C467.10,406.00 470.36,388.67 473.62,380.00C476.87,371.33 480.13,354.00 483.39,354.00C486.65,354.00 489.90,398.00 493.16,398.00C496.42,398.00 499.67,380.67 502.93,372.00C506.19,363.33 509.44,346.00 512.70,346.00C515.96,346.00 519.22,394.00 522.47,394.00C525.73,394.00 528.99,338.00 532.24,338.00C535.90,338.00 539.56,339.33 543.22,342.00C546.07,344.08 548.93,394.00 551.79,394.00C555.04,394.00 558.30,376.67 561.56,368.00C564.81,359.33 568.07,342.00 571.33,342.00C574.58,342.00 577.84,386.00 581.10,386.00C584.36,386.00 587.61,363.33 590.87,362.00C594.13,360.67 597.38,360.67 600.64,360.00C603.90,359.33 607.15,359.33 610.41,358.00C613.67,356.67 616.93,338.00 620.18,338.00C623.44,338.00 626.70,366.00 629.95,374.00C633.21,382.00 636.47,381.33 639.72,386.00C642.98,390.67 646.24,402.00 649.50,402.00C652.75,402.00 656.01,384.67 659.27,376.00C662.52,367.33 665.78,350.00 669.04,350.00C672.29,350.00 675.55,398.00 678.81,398.00C682.07,398.00 685.32,379.33 688.58,370.00C691.84,360.67 695.09,342.00 698.35,342.00C701.61,342.00 704.87,386.00 708.12,386.00C711.38,386.00 714.64,370.00 717.89,362.00C721.15,354.00 724.41,338.00 727.66,338.00C730.92,338.00 734.18,382.00 737.43,382.00C740.69,382.00 743.95,338.00 747.21,338.00C750.46,338.00 753.72,374.00 756.98,374.00C760.23,374.00 763.49,342.00 766.75,342.00C770.00,342.00 773.26,390.00 776.52,390.00C779.78,390.00 783.03,338.00 786.29,338.00C789.55,338.00 792.80,338.00 796.06,338.00C799.32,338.00 802.58,386.00 805.83,386.00C809.09,386.00 812.35,358.00 815.60,358.00C819.13,358.00 822.65,402.00 826.17,402.00C829.60,402.00 833.02,385.68 836.44,376.00C839.27,368.02 842.09,350.00 844.92,350.00C848.57,350.00 852.23,398.00 855.89,398.00C859.38,398.00 862.87,384.72 866.36,376.00C868.98,369.45 871.61,354.00 874.23,354.00C877.49,354.00 880.74,374.00 884.00,394.00"/>
  <path class="ln" stroke="#f48b2a" d="M14.38,242.00C17.64,242.00 20.89,242.00 24.15,242.00C27.41,242.00 30.67,242.00 33.92,242.00C37.18,242.00 40.44,242.00 43.69,242.00C46.95,242.00 50.21,242.00 53.46,242.00C56.72,242.00 59.98,242.00 63.24,242.00C66.49,242.00 69.75,242.00 73.01,242.00C76.26,242.00 79.52,242.00 82.78,242.00C86.03,242.00 89.29,242.00 92.55,242.00C95.81,242.00 99.06,338.00 102.32,338.00C105.58,338.00 108.83,338.00 112.09,338.00C115.35,338.00 118.60,338.00 121.86,338.00C125.12,338.00 128.38,338.00 131.63,338.00C134.89,338.00 138.15,338.00 141.40,338.00C143.99,338.00 146.58,338.00 149.17,338.00C153.10,338.00 157.02,338.00 160.95,338.00C163.94,338.00 166.93,338.00 169.92,338.00C173.44,338.00 176.96,338.00 180.49,338.00C183.74,338.00 187.00,338.00 190.26,338.00C193.52,338.00 196.77,338.00 200.03,338.00C203.29,338.00 206.54,338.00 209.80,338.00C213.06,338.00 216.31,338.00 219.57,338.00C222.43,338.00 225.29,338.00 228.14,338.00C231.30,338.00 234.46,338.00 237.61,338.00C241.37,338.00 245.13,338.00 248.88,338.00C252.14,338.00 255.40,338.00 258.66,338.00C261.91,338.00 265.17,338.00 268.43,338.00C271.68,338.00 274.94,338.00 278.20,338.00C281.45,338.00 284.71,398.00 287.97,398.00C291.23,398.00 294.48,374.00 297.74,374.00C301.66,374.00 305.59,398.00 309.51,398.00C312.63,398.00 315.76,393.44 318.88,390.00C321.87,386.71 324.86,382.67 327.85,378.00C330.84,373.33 333.83,368.30 336.82,362.00C340.08,355.14 343.34,338.00 346.59,338.00C349.85,338.00 353.11,374.00 356.37,374.00C359.62,374.00 362.88,350.00 366.14,350.00C369.39,350.00 372.65,398.00 375.91,398.00C378.83,398.00 381.76,379.94 384.68,372.00C388.27,362.24 391.86,346.00 395.45,346.00C398.37,346.00 401.30,394.00 404.22,394.00C407.81,394.00 411.40,391.33 414.99,386.00C418.25,381.16 421.51,370.00 424.76,362.00C428.02,354.00 431.28,338.00 434.53,338.00C437.79,338.00 441.05,386.00 444.30,386.00C447.56,386.00 450.82,358.00 454.08,358.00C457.33,358.00 460.59,406.00 463.85,406.00C467.10,406.00 470.36,388.67 473.62,380.00C476.87,371.33 480.13,354.00 483.39,354.00C486.65,354.00 489.90,398.00 493.16,398.00C496.42,398.00 499.67,380.67 502.93,372.00C506.19,363.33 509.44,346.00 512.70,346.00C515.96,346.00 519.22,394.00 522.47,394.00C525.73,394.00 528.99,338.00 532.24,338.00C535.90,338.00 539.56,339.33 543.22,342.00C546.07,344.08 548.93,394.00 551.79,394.00C555.04,394.00 558.30,376.67 561.56,368.00C564.81,359.33 568.07,342.00 571.33,342.00C574.58,342.00 577.84,386.00 581.10,386.00C584.36,386.00 587.61,363.33 590.87,362.00C594.13,360.67 597.38,360.67 600.64,360.00C603.90,359.33 607.15,359.33 610.41,358.00C613.67,356.67 616.93,338.00 620.18,338.00C623.44,338.00 626.70,366.00 629.95,374.00C633.21,382.00 636.47,381.33 639.72,386.00C642.98,390.67 646.24,402.00 649.50,402.00C652.75,402.00 656.01,384.67 659.27,376.00C662.52,367.33 665.78,350.00 669.04,350.00C672.29,350.00 675.55,398.00 678.81,398.00C682.07,398.00 685.32,379.33 688.58,370.00C691.84,360.67 695.09,342.00 698.35,342.00C701.61,342.00 704.87,386.00 708.12,386.00C711.38,386.00 714.64,370.00 717.89,362.00C721.15,354.00 724.41,338.00 727.66,338.00C730.92,338.00 734.18,382.00 737.43,382.00C740.69,382.00 743.95,338.00 747.21,338.00C750.46,338.00 753.72,374.00 756.98,374.00C760.23,374.00 763.49,342.00 766.75,342.00C770.00,342.00 773.26,390.00 776.52,390.00C779.78,390.00 783.03,338.00 786.29,338.00C789.55,338.00 792.80,338.00 796.06,338.00C799.32,338.00 802.58,386.00 805.83,386.00C809.09,386.00 812.35,358.00 815.60,358.00C819.13,358.00 822.65,402.00 826.17,402.00C829.60,402.00 833.02,385.68 836.44,376.00C839.27,368.02 842.09,350.00 844.92,350.00C848.57,350.00 852.23,398.00 855.89,398.00C859.38,398.00 862.87,384.72 866.36,376.00C868.98,369.45 871.61,354.00 874.23,354.00C877.49,354.00 880.74,374.00 884.00,394.00"/>
  <!-- dotted lead-in -->
  <rect x="12" y="236" width="25" height="8" fill="#15191d"/>
  <line x1="13" x2="37" y1="238" y2="238" stroke="#5d6a82" stroke-width="2" stroke-dasharray="2 2"/>
  <line x1="13" x2="15" y1="242" y2="242" stroke="#7a604c" stroke-width="2"/>
  <line x1="17.5" x2="38" y1="242" y2="242" stroke="#341200" stroke-width="4" stroke-opacity="0.6"/><line x1="36" x2="40" y1="238" y2="238" stroke="#4093e8" stroke-width="2"/><line x1="17.5" x2="40" y1="242" y2="242" stroke="#f48b2a" stroke-width="2"/>
  <circle cx="884" cy="286" r="13.5" fill="#c4d9ff" fill-opacity="0.115"/>
  <circle cx="884" cy="314" r="13.5" fill="#4aa0ff" fill-opacity="0.08"/>
  <circle cx="884" cy="378" r="13.5" fill="#ffc83a" fill-opacity="0.12"/>
  <circle cx="884" cy="394" r="13.5" fill="#ff9a3c" fill-opacity="0.11"/>
  <circle cx="884" cy="286" r="4" fill="#8fc4ff"/>
  <circle cx="884.5" cy="314" r="4" fill="#2e9bff"/>
  <circle cx="884" cy="394" r="4" fill="#ff8a1c"/>
  <circle cx="884.5" cy="378" r="4" fill="#ffc81f"/>
  <!-- footer icons -->
  <g fill="none" stroke="#2492ee" stroke-width="1.15" stroke-linecap="round" stroke-linejoin="round">
    <path d="M16.8,464.9 H23.4 V468 a3.3,3.7 0 0 1 -6.6,0 Z"/>
    <path d="M16.8,465.9 H14.4 V466.9 a2.5,2.6 0 0 0 2.7,2.6 M23.4,465.9 H25.8 V466.9 a2.5,2.6 0 0 1 -2.7,2.6"/>
    <path d="M20.1,471.7 V473.4"/>
    <path d="M18.2,473.5 H22 L23.4,475.4 H16.8 Z" fill="#2492ee"/>
  </g>
  <g class="ig" stroke-width="1.5">
    <circle cx="88.9" cy="470" r="5.2"/>
    <path d="M88.9,467.2 V470 L90.9,471.6"/>
  </g>
  <g class="ig" stroke-width="1.25">
    <path d="M889.3,466 H900.2 M889.3,469.3 H897 M889.3,472.7 H897"/>
    <path d="M900,469.6 V478.3 M897.3,475.9 L900,478.6 L902.7,475.9"/>
  </g>
  <g class="ig">
    <circle cx="926" cy="470" r="2.5"/>
    <path d="M924.96,462.67 L927.04,462.67 L927.42,464.48 L928.90,465.09 L930.44,464.08 L931.92,465.56 L930.91,467.10 L931.52,468.58 L933.33,468.96 L933.33,471.04 L931.52,471.42 L930.91,472.90 L931.92,474.44 L930.44,475.92 L928.90,474.91 L927.42,475.52 L927.04,477.33 L924.96,477.33 L924.58,475.52 L923.10,474.91 L921.56,475.92 L920.08,474.44 L921.09,472.90 L920.48,471.42 L918.67,471.04 L918.67,468.96 L920.48,468.58 L921.09,467.10 L920.08,465.56 L921.56,464.08 L923.10,465.09 L924.58,464.48 Z"/>
  </g>
</svg>

<!-- footer -->
<div class="abs foot" style="left:31.5px;color:#2492ee;font-weight:700;font-size:13px;letter-spacing:-.2px">NEW</div>
<div class="abs" style="left:72.5px;top:464px;width:1px;height:12px;background:#2b3039"></div>
<div class="abs foot" style="left:102px;color:#858c98;letter-spacing:.15px">Apr 1, 2026</div>

<div class="abs rng" style="left:698px">1H</div>
<div class="abs rng" style="left:727px">6H</div>
<div class="abs rng" style="left:757px">1D</div>
<div class="abs rng" style="left:785px">1W</div>
<div class="abs rng" style="left:816px">1M</div>
<div class="abs rng" style="left:848px;color:#f2f3f5">ALL</div>

</body>
</html>
